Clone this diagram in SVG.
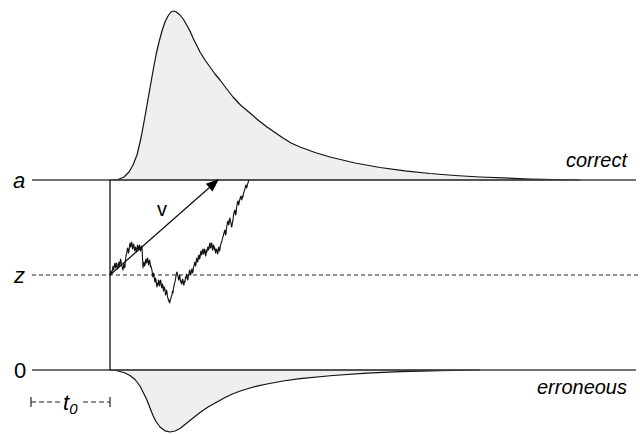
<svg xmlns="http://www.w3.org/2000/svg" width="640" height="434" viewBox="0 0 640 434">
<style>
.lbl{font-family:"Liberation Sans",Arial,sans-serif;font-size:20px;fill:#000}
.big{font-size:22px}
.it{font-style:italic}
.base{stroke:#444;stroke-width:1.6;fill:none}
.dist{fill:#efefef;stroke:#111;stroke-width:1.2;stroke-linejoin:round}
.thin{stroke:#111;stroke-width:1.3;fill:none}
.tick{stroke:#222;stroke-width:1.2}
</style>
<rect width="640" height="434" fill="#fff"/>
<g id="correct-dist">
<path class="dist" d="M110,180 L118,179.5 124,177 129,172 133,165 137,155 141,138 144,122 147,105 150,88 153,71 156,55 159,42 162,31 165,22 168,16 171,12 173.5,11 176,11.8 180,15 183.5,19.5 186.7,25 190,31 193,38 196.5,45 200,52 205,60 210,67 215,74 220,80 226,88 233,97 241,105.5 250,113 258,120 267,127 275,132.5 283,138 291,143 300,147 315,152.5 330,157 355,163 380,167.5 405,170.8 430,173.5 455,175.5 480,177 530,179 580,180 Z"/>
</g>
<g id="error-dist">
<path class="dist" d="M110,370 L116,370.5 120,371.5 125,373 130,375.5 135,379.5 140,386 143,392 147,400 150,408 153,415.5 156,421.5 160,427 165,430.8 170,432 175,431 180,428.5 185,424.5 190,420.5 195,416.5 200,412.5 208,407 217,402 225,397.5 233,393.8 241,390.8 250,388 258,385.8 267,384 283,381 300,378.6 333,375.5 367,373.2 400,371.6 440,370.6 480,370 Z"/>
</g>
<g id="boundaries">
<line class="base" x1="32" y1="180" x2="636" y2="180"/>
<line class="base" x1="32" y1="370" x2="636" y2="370"/>
<line x1="32" y1="275" x2="640" y2="275" stroke="#222" stroke-width="1.2" stroke-dasharray="4,3"/>
<line class="thin" x1="110" y1="180" x2="110" y2="370"/>
</g>
<g id="random-walk">
<polyline fill="none" stroke="#111" stroke-width="1.1" stroke-linejoin="round" points="110,275 110.5,272 111,271 111.5,274 112,273 112.5,269 113,266 113.5,270 114,268 114.5,265 115,263 115.5,268 116,267 116.5,263 117,265 117.5,269 118,268 118.5,264 119,262 119.5,266 120,264 120.5,259 121,261 121.5,265 122,266 122.5,269 123,270 123.5,266 124,264 124.5,268 125,266 125.5,260 126,256 126.5,254 127,252 127.5,248 128,249 128.5,253 129,251 129.5,246 130,243 130.5,247 131,246 131.5,242 132,244 132.5,249 133,248 133.5,244 134,246 134.5,250 135,251 135.5,247 136,248 136.5,252 137,250 137.5,245 138,246 138.5,250 139,249 139.5,245 140,247 140.5,251 141,249 141.5,246 142,247 142.5,258 143,268 143.5,264 144,262 144.5,266 145,265 145.5,261 146,259 146.5,263 147,262 147.5,258 148,260 148.5,265 149,264 149.5,260 150,262 150.5,267 151,266 151.5,269 152,270 152.5,275 153,277 153.5,273 154,275 154.5,280 155,282 155.5,278 156,280 156.5,285 157,287 157.5,283 158,285 158.5,280 159,281 159.5,286 160,284 160.5,280 161,282 161.5,287 162,288 162.5,284 163,286 163.5,291 164,289 164.5,287 165,290 165.5,295 166,294 166.5,290 167,292 167.5,297 168,298 168.5,301 169,300 169.5,303 170,302 170.5,299 171,298 171.5,296 172,295 172.5,291 173,293 173.5,288 174,286 174.5,283 175,282 175.5,279 176,276 176.5,273 177,272 177.5,275 178,276 178.5,280 179,279 179.5,275 180,277 180.5,282 181,281 181.5,284 182,283 182.5,279 183,280 183.5,285 184,285 184.5,281 185,282 185.5,277 186,278 186.5,274 187,276 187.5,280 188,279 188.5,275 189,274 189.5,270 190,271 190.5,275 191,274 191.5,270 192,269 192.5,273 193,272 193.5,267 194,266 194.5,263 195,262 195.5,266 196,264 196.5,259 197,258 197.5,262 198,261 198.5,256 199,255 199.5,259 200,258 200.5,253 201,251 201.5,255 202,254 202.5,250 203,249 203.5,254 204,253 204.5,249 205,250 205.5,256 206,255 206.5,250 207,252 207.5,248 208,247 208.5,250 209,249 209.5,244 210,243 210.5,248 211,247 211.5,243 212,244 212.5,250 213,249 213.5,245 214,246 214.5,250 215,248 215.5,253 216,252 216.5,249 217,250 217.5,254 218,253 218.5,248 219,247 219.5,251 220,249 220.5,245 221,244 221.5,242 222,241 222.5,238 223,237 223.5,235 224,233 224.5,231 225,230 225.5,235 226,234 226.5,228 227,225 227.5,222 228,221 228.5,225 229,224 229.5,219 230,218 230.5,222 231,223 231.5,227 232,226 232.5,222 233,220 233.5,215 234,213 234.5,211 235,210 235.5,215 236,214 236.5,208 237,205 237.5,202 238,201 238.5,205 239,204 239.5,200 240,199 240.5,197 241,196 241.5,200 242,199 242.5,196 243,197 243.5,193 244,192 244.5,190 245,189 245.5,186 246,185 246.5,188 247,187 247.5,184 248,183 248.5,181 249,180"/>
</g>
<g id="connectors">
<line class="thin" x1="110" y1="275" x2="209.5" y2="187.4"/>
<polygon points="219,179 212.5,191.4 205.9,183.8" fill="#000"/>
</g>
<g id="t0-marker">
<line class="tick" x1="31" y1="397" x2="31" y2="407"/>
<line class="tick" x1="110" y1="397" x2="110" y2="407"/>
<line class="tick" x1="31" y1="402" x2="61" y2="402" stroke-dasharray="5,3"/>
<line class="tick" x1="81" y1="402" x2="110" y2="402" stroke-dasharray="5,3" stroke-dashoffset="-2"/>
<text class="lbl it big" x="63" y="410">t<tspan font-size="15" dy="4">0</tspan></text>
</g>
<g id="labels">
<text class="lbl it big" x="13" y="188">a</text>
<text class="lbl it big" x="14" y="283">z</text>
<text class="lbl big" x="14" y="378">0</text>
<text class="lbl" x="157" y="216">v</text>
<text class="lbl it" x="627" y="167" text-anchor="end">correct</text>
<text class="lbl it" x="627" y="394" text-anchor="end">erroneous</text>
</g>
</svg>
